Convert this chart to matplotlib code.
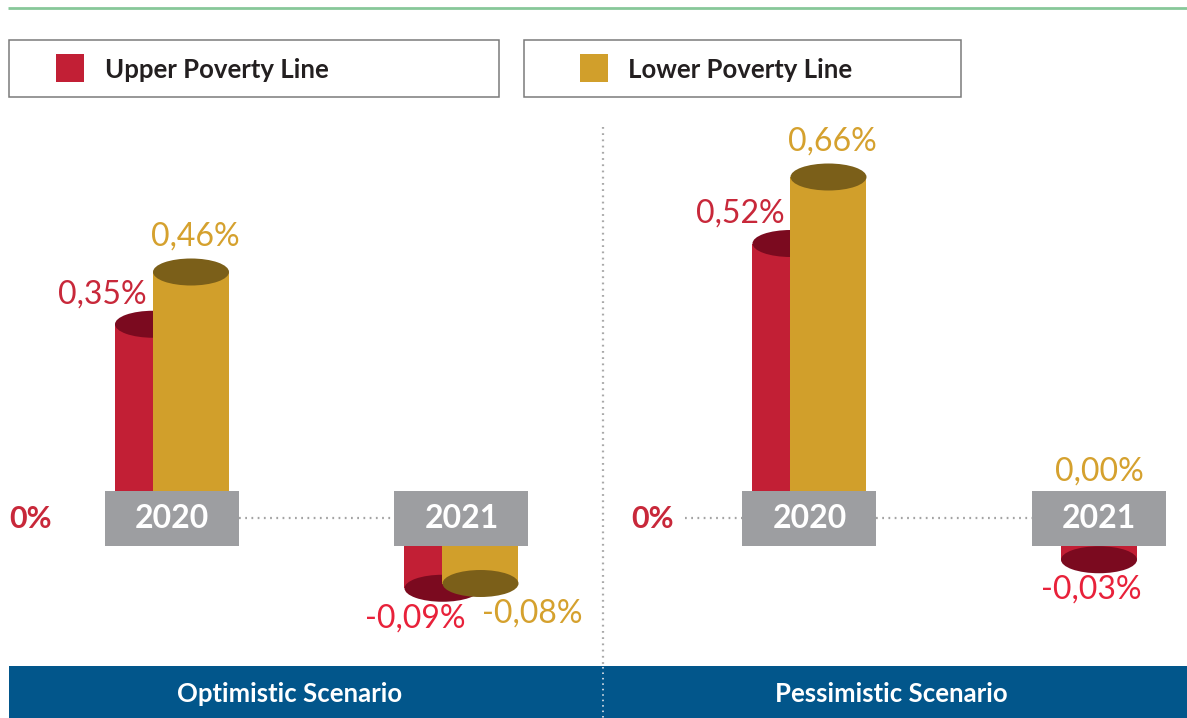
import matplotlib
matplotlib.use('Agg')
import matplotlib.pyplot as plt
from matplotlib.patches import Rectangle, Ellipse

# ---------------- data ----------------
scenarios = ['Optimistic Scenario', 'Pessimistic Scenario']
years = ['2020', '2021']
series_names = ['Upper Poverty Line', 'Lower Poverty Line']
upper_optimistic = [0.35, -0.09]
lower_optimistic = [0.46, -0.08]
upper_pessimistic = [0.52, -0.03]
lower_pessimistic = [0.66, 0.00]
zero_label = '0%'

# ---------------- styles ----------------
plt.rcParams['font.family'] = ['Lato', 'DejaVu Sans']
W, H = 1187, 718
RED, RED_DARK = '#c21f35', '#7b0a1f'
GOLD, GOLD_DARK = '#d19f2b', '#7b5f19'
RED_TXT, RED_NEG_TXT, GOLD_TXT = '#c8283a', '#e8213a', '#d5a12e'
GREY_BOX = '#9d9ea1'
DOT_GREY = '#a3a3a3'
BLUE = '#02568b'
GREEN = '#87c899'
VAL_FS = 23
VAL_W = 'normal'

PPU = 475.0            # pixels per 1 percentage point
ZERO_Y = 518           # pixel row of the zero line
UNIT_X = 289.5         # pixels between the two year groups
BW = 76 / UNIT_X       # cylinder width
OFF = 19 / UNIT_X      # half shift of each cylinder
BOXW = 134 / UNIT_X
BOX_HALF = 27.5 / PPU
ELL_H = 27 / PPU

fig = plt.figure(figsize=(W / 100, H / 100), dpi=100)
bg = fig.add_axes([0, 0, 1, 1], zorder=0)
bg.set_xlim(0, W)
bg.set_ylim(H, 0)
bg.axis('off')

# top green rule
bg.plot([8, W], [8, 8], color=GREEN, lw=2, solid_capstyle='butt')

# legend boxes
legend_specs = [((9, 40, 490, 57), (56, 54), 105, RED),
                ((524, 40, 437, 57), (580, 54), 628, GOLD)]
for name, (box, sq, tx, col) in zip(series_names, legend_specs):
    bg.add_patch(Rectangle(box[:2], box[2], box[3], fill=False,
                           ec='#7a7a7a', lw=1.1))
    bg.add_patch(Rectangle(sq, 28, 28, color=col, lw=0))
    bg.text(tx, 70, name, fontsize=18.5, fontweight='bold', color='#231f20',
            va='center', ha='left')

# vertical divider
bg.plot([603, 603], [127, 666], color='#a9a9a9', lw=1.6,
        dashes=(0.8, 2.0))

# bottom banner
bg.add_patch(Rectangle((9, 666), W - 9, 52, color=BLUE, lw=0))
bg.plot([603, 603], [667, 718], color='#c5d2de', lw=1.4, dashes=(0.8, 2.0))
for name, cx in zip(scenarios, [290, 891]):
    bg.text(cx, 694, name, fontsize=18.5, fontweight='bold', color='white',
            ha='center', va='center')

# "0%" markers
for x0 in [9, 631]:
    bg.text(x0, ZERO_Y + 1, zero_label, fontsize=22, fontweight='bold',
            color=RED_TXT, ha='left', va='center')


def fmt(v):
    return f"{v:.2f}%".replace('.', ',')


def draw_panel(px0, px1, first_center, upper, lower, left_dots):
    ax = fig.add_axes([px0 / W, 0, (px1 - px0) / W, 1], zorder=1)
    ax.patch.set_alpha(0)
    ax.axis('off')
    ax.set_xlim((px0 - first_center) / UNIT_X, (px1 - first_center) / UNIT_X)
    ax.set_ylim(-(H - ZERO_Y) / PPU, ZERO_Y / PPU)

    # dotted zero line
    ax.plot([BOXW / 2, 1 - BOXW / 2], [0, 0], color=DOT_GREY, lw=1.6,
            dashes=(0.8, 2.0), zorder=1)
    if left_dots:
        ax.plot([(685 - first_center) / UNIT_X, -BOXW / 2], [0, 0],
                color=DOT_GREY, lw=1.6, dashes=(0.8, 2.0), zorder=1)

    for i, (u, l) in enumerate(zip(upper, lower)):
        both = (u != 0) and (l != 0)
        for j, (v, c, dc) in enumerate([(u, RED, RED_DARK),
                                        (l, GOLD, GOLD_DARK)]):
            sgn = -1 if j == 0 else 1
            xc = i + (sgn * OFF if both else 0)
            if v == 0:
                ax.text(i, BOX_HALF + 4 / PPU, fmt(v), fontsize=VAL_FS,
                        fontweight=VAL_W,
                        color=GOLD_TXT if j == 1 else RED_TXT,
                        ha='center', va='bottom')
                continue
            s = 1 if v > 0 else -1
            base = s * BOX_HALF
            top = base + v
            ax.bar(xc, v, bottom=base, width=BW, color=c, lw=0,
                   zorder=2 + 2 * j)
            ax.add_patch(Ellipse((xc, top), BW, ELL_H, color=dc, lw=0,
                                 zorder=3 + 2 * j))
            if v > 0:
                if j == 0:
                    ax.annotate(fmt(v), (xc, top), xytext=(-6, 30),
                                textcoords='offset pixels', ha='right',
                                va='center', fontsize=VAL_FS,
                                fontweight=VAL_W, color=RED_TXT)
                else:
                    ax.annotate(fmt(v), (xc, top), xytext=(4, 35),
                                textcoords='offset pixels', ha='center',
                                va='center', fontsize=VAL_FS,
                                fontweight=VAL_W, color=GOLD_TXT)
            else:
                dx = (-27 if j == 0 else 52) if both else -8
                ax.annotate(fmt(v), (xc, top), xytext=(dx, -30),
                            textcoords='offset pixels', ha='center',
                            va='center', fontsize=VAL_FS, fontweight=VAL_W,
                            color=RED_NEG_TXT if j == 0 else GOLD_TXT)
        # year box
        ax.add_patch(Rectangle((i - BOXW / 2, -BOX_HALF), BOXW, 2 * BOX_HALF,
                               color=GREY_BOX, lw=0, zorder=10))
        ax.text(i, 0, years[i], fontsize=23, fontweight='bold', color='white',
                ha='center', va='center', zorder=11)
    return ax


draw_panel(0, 603, 172, upper_optimistic, lower_optimistic, False)
draw_panel(603, W, 809.5, upper_pessimistic, lower_pessimistic, True)

fig.savefig('out.png', dpi=100)
